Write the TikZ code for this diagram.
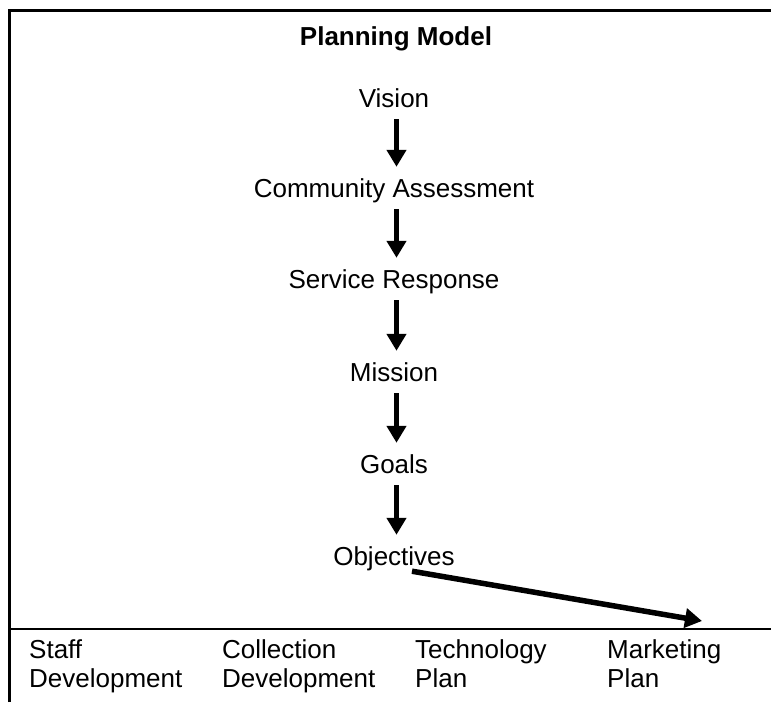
\documentclass[tikz,border=0pt]{standalone}
\usepackage{fontspec}
\setmainfont{Liberation Sans}
\usetikzlibrary{arrows.meta}
\begin{document}
\begin{tikzpicture}[x=1pt,y=-1pt,
  lbl/.style={font=\fontsize{26}{29}\selectfont, inner sep=0pt, text height=19pt, text depth=6pt},
  stage/.style={lbl, anchor=base},
  foot/.style={lbl, anchor=base west},
  arr/.style={line width=5.5pt, -{Triangle[width=19pt,length=17pt]}},
  varr/.style={arr, shorten <=6pt, shorten >=11pt},
  frameline/.style={line width=2.2pt},
  sepline/.style={line width=1.8pt}]
\useasboundingbox (0,0) rectangle (771,702);
% frame
\draw[frameline] (9.5,702) -- (9.5,10.5) -- (771,10.5);
\draw[sepline] (9.5,629) -- (771,629);
% title and stages
\node[stage, font=\fontsize{26}{29}\selectfont\bfseries] (title) at (396,45) {Planning Model};
\node[stage] (vision) at (394,107) {Vision};
\node[stage] (ca) at (394,197) {Community Assessment};
\node[stage] (sr) at (394,288) {Service Response};
\node[stage] (mission) at (394,381) {Mission};
\node[stage] (goals) at (394,473) {Goals};
\node[stage] (obj) at (394,565) {Objectives};
% vertical arrows
\draw[varr] ([xshift=2.5pt]vision.south) -- ([xshift=2.5pt]ca.north);
\draw[varr] ([xshift=2.5pt]ca.south) -- ([xshift=2.5pt]sr.north);
\draw[varr] ([xshift=2.5pt]sr.south) -- ([xshift=2.5pt]mission.north);
\draw[varr] ([xshift=2.5pt]mission.south) -- ([xshift=2.5pt]goals.north);
\draw[varr] ([xshift=2.5pt]goals.south) -- ([xshift=2.5pt]obj.north);
% diagonal arrow
\coordinate (mkttip) at (702,621);
\draw[arr] ([xshift=18pt]obj.south) -- (mkttip);
% bottom labels
\node[foot] (staffA) at (29,658) {Staff};
\node[foot] (staffB) at (29,687) {Development};
\node[foot] (collA) at (222,658) {Collection};
\node[foot] (collB) at (222,687) {Development};
\node[foot] (techA) at (415,658) {Technology};
\node[foot] (techB) at (415,687) {Plan};
\node[foot] (mktA) at (607,658) {Marketing};
\node[foot] (mktB) at (607,687) {Plan};
\end{tikzpicture}
\end{document}
